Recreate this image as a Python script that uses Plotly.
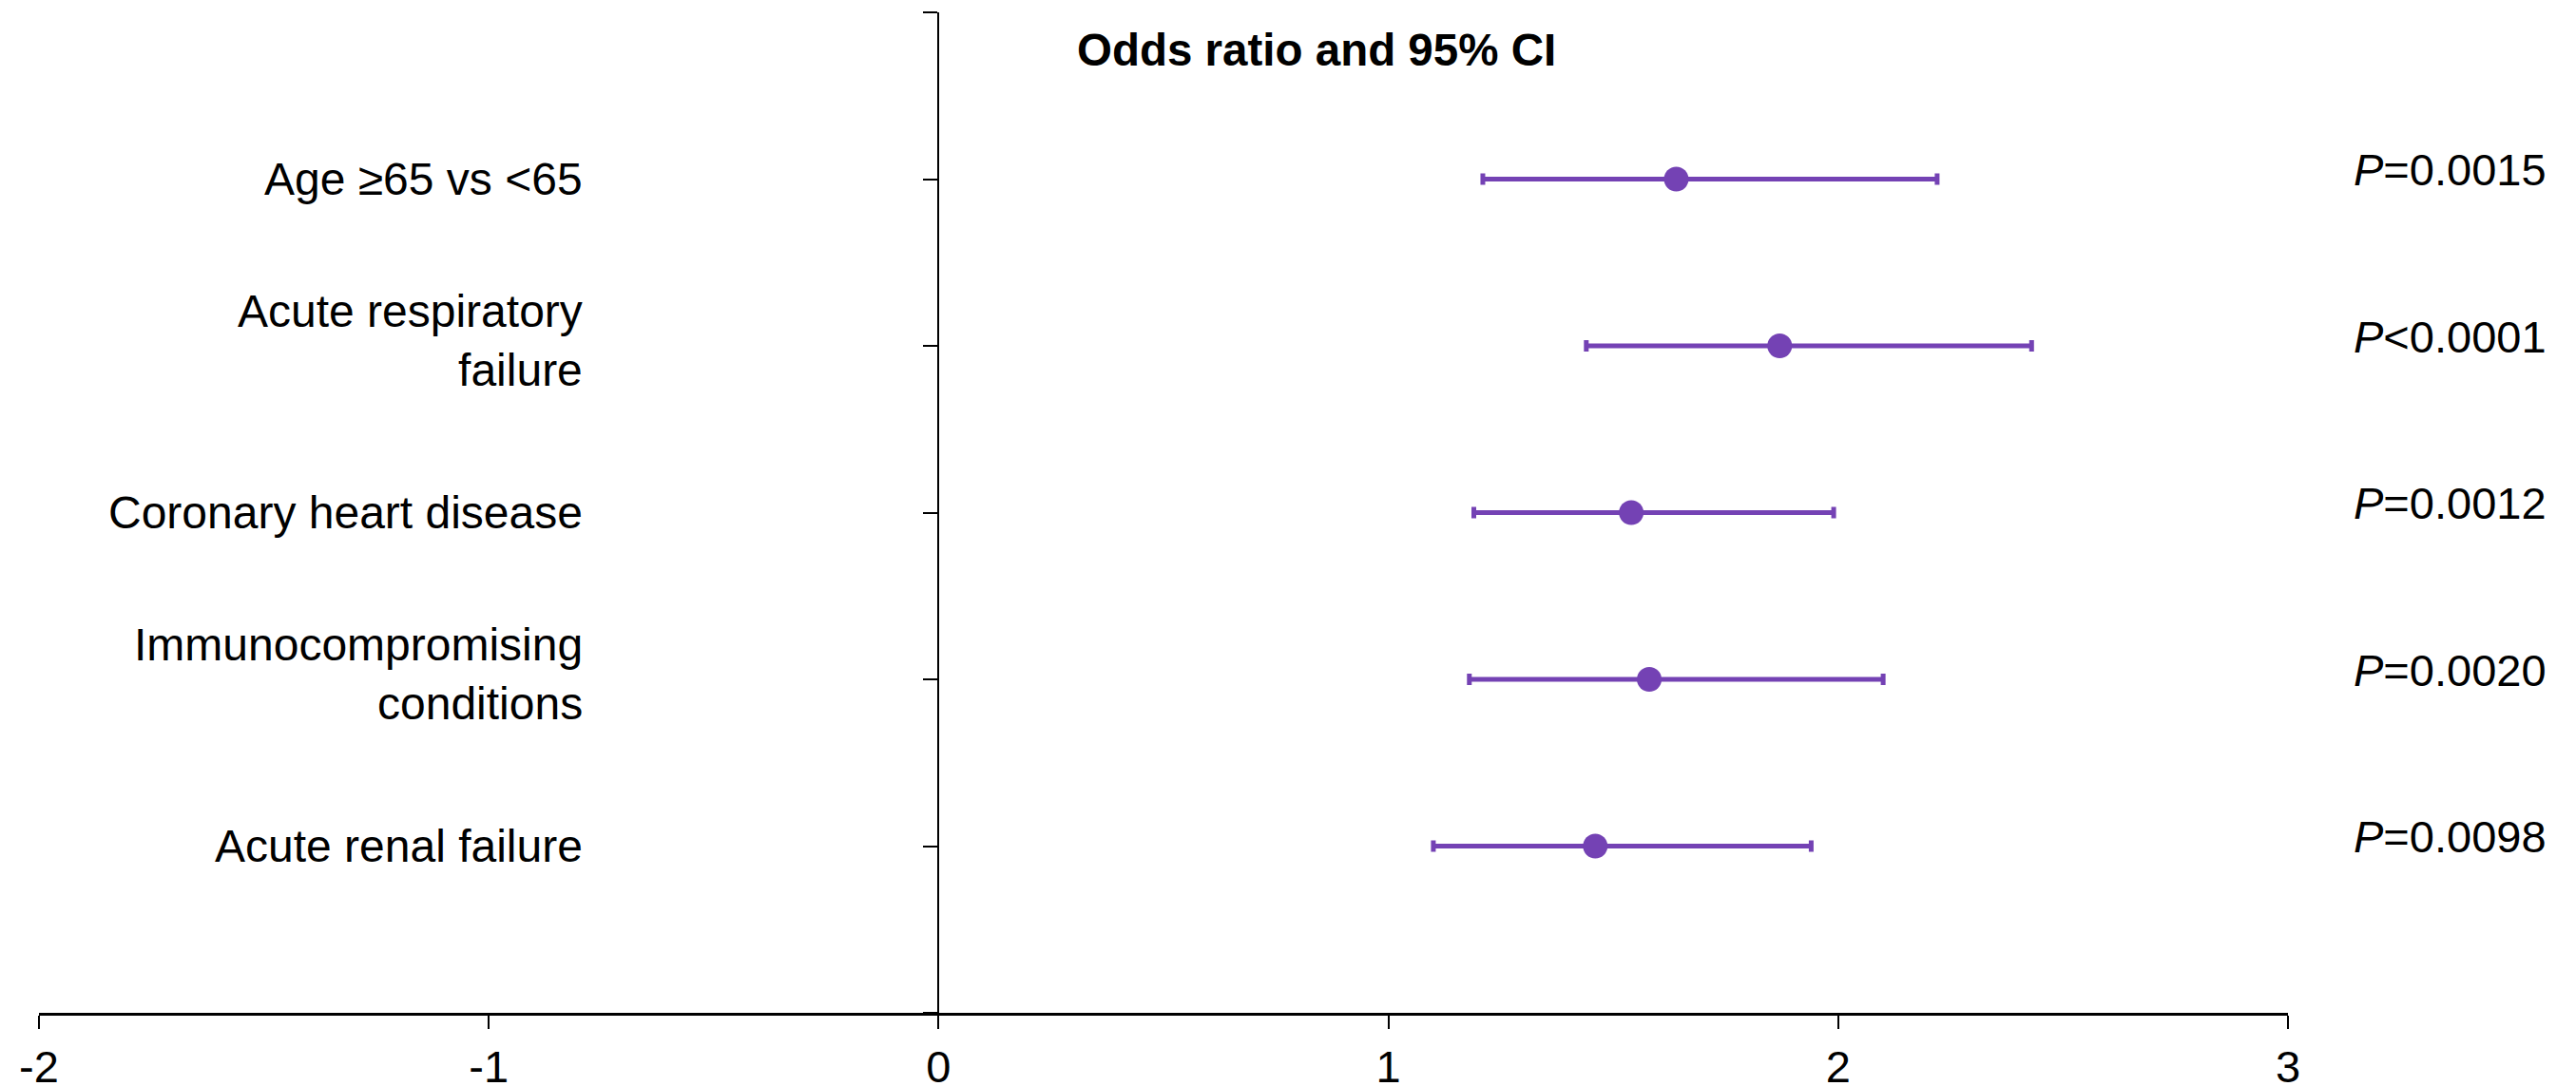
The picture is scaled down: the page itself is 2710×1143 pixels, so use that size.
import plotly.graph_objects as go

# ---- data ----
categories = ["Age ≥65 vs <65", "Acute respiratory<br>failure", "Coronary heart disease",
              "Immunocompromising<br>conditions", "Acute renal failure"]
cat_pos = [1, 2, 3, 4, 5]
odds_ratio = [1.64, 1.87, 1.54, 1.58, 1.46]
ci_low = [1.21, 1.44, 1.19, 1.18, 1.10]
ci_high = [2.22, 2.43, 1.99, 2.10, 1.94]
p_values = ["<i>P</i>=0.0015", "<i>P</i>&lt;0.0001", "<i>P</i>=0.0012",
            "<i>P</i>=0.0020", "<i>P</i>=0.0098"]
x_tickvals = [-2, -1, 0, 1, 2, 3]
x_ticktext = ["-2", "-1", "0", "1", "2", "3"]
y_tickvals = [0, 1, 2, 3, 4, 5, 6]
title_text = "<b>Odds ratio and 95% CI</b>"

PURPLE = "#7442B4"
FONT = "Liberation Sans, Arial, sans-serif"
FS = 47

err_plus = [h - o for h, o in zip(ci_high, odds_ratio)]
err_minus = [o - l for o, l in zip(odds_ratio, ci_low)]

fig = go.Figure()
fig.add_trace(go.Scatter(
    x=odds_ratio, y=cat_pos, mode="markers",
    marker=dict(color=PURPLE, size=26, line=dict(width=0)),
    error_x=dict(type="data", symmetric=False, array=err_plus, arrayminus=err_minus,
                 color=PURPLE, thickness=5, width=6),
    showlegend=False, hoverinfo="skip",
))

annotations = []
for cat, y in zip(categories, cat_pos):
    annotations.append(dict(
        text=cat, xref="paper", x=0.2426, xanchor="right", align="right",
        yref="y", y=y, yanchor="middle", showarrow=False,
        yshift=6 if "<br>" in cat else 0,
        font=dict(family=FONT, size=48, color="black"),
    ))
for p, y in zip(p_values, cat_pos):
    annotations.append(dict(
        text=p, xref="paper", x=1.0283, xanchor="left", align="left",
        yref="y", y=y, yanchor="middle", yshift=10, showarrow=False,
        font=dict(family=FONT, size=FS, color="black"),
    ))
annotations.append(dict(
    text=title_text, xref="paper", x=0.4607, xanchor="left",
    yref="y", y=0.226, yanchor="middle", showarrow=False,
    font=dict(family=FONT, size=47.5, color="black"),
))

# page body has an 8px default margin: compensate so the chart sits where the reference has it
fig.update_layout(
    template="none",
    width=2702, height=1135,
    margin=dict(l=33, r=303, t=5, b=77, pad=0),
    paper_bgcolor="white", plot_bgcolor="white",
    font=dict(family=FONT, size=FS, color="black"),
    xaxis=dict(
        range=[-2, 3], tickvals=x_tickvals, ticktext=x_ticktext,
        showline=True, linecolor="black", linewidth=2.5,
        ticks="outside", ticklen=14, tickwidth=1.5, tickcolor="black",
        showgrid=False, zeroline=False, automargin=False,
        tickfont=dict(family=FONT, size=FS, color="black"),
    ),
    yaxis=dict(
        range=[6, 0], tickvals=y_tickvals, showticklabels=False,
        anchor="free", position=0.4,
        showline=True, linecolor="black", linewidth=2,
        ticks="outside", ticklen=15, tickwidth=2, tickcolor="black",
        showgrid=False, zeroline=False, automargin=False,
    ),
    annotations=annotations,
)

fig.write_html("out.html")
